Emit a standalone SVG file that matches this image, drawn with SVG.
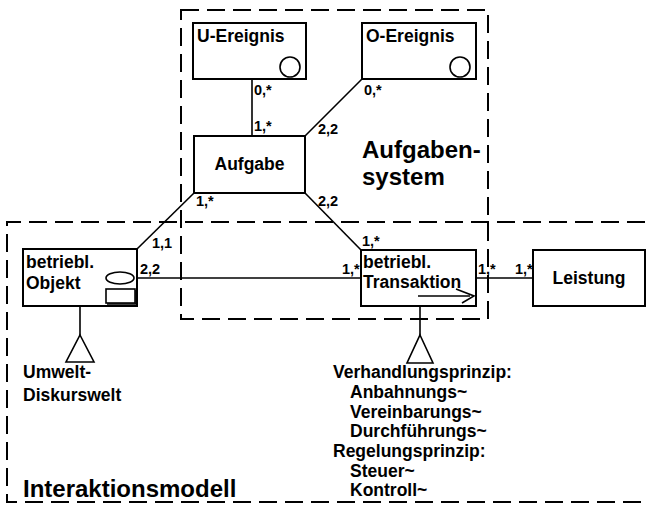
<svg xmlns="http://www.w3.org/2000/svg" width="650" height="518" viewBox="0 0 650 518">
  <style>
    .box { fill: #fff; stroke: #000; stroke-width: 2; }
    .frame { fill: none; stroke: #000; stroke-width: 2; stroke-dasharray: 18 8; }
    .line { fill: none; stroke: #000; stroke-width: 1.6; }
    .t { font-family: "Liberation Sans", Arial, sans-serif; font-weight: bold; fill: #000; }
    .name { font-size: 17.5px; }
    .card { font-size: 14.5px; }
    .big { font-size: 24px; }
    .note { font-size: 17.5px; }
  </style>

  <!-- frames -->
  <g id="aufgabensystem">
    <rect class="frame" x="181" y="10" width="307" height="309"/>
    <text class="t big" x="362" y="158">Aufgaben-</text>
    <text class="t big" x="362" y="185">system</text>
  </g>
  <g id="interaktionsmodell">
    <path class="frame" d="M645,222 H7 V502 H645"/>
    <text class="t big" x="23" y="497">Interaktionsmodell</text>
  </g>

  <!-- connectors -->
  <g id="connectors">
    <line class="line" x1="252" y1="79" x2="252" y2="136"/>
    <line class="line" x1="362" y1="79" x2="305" y2="136"/>
    <line class="line" x1="194" y1="193" x2="137" y2="249"/>
    <line class="line" x1="305" y1="193" x2="361" y2="250"/>
    <line class="line" x1="137" y1="278" x2="361" y2="278"/>
    <line class="line" x1="476" y1="278" x2="533" y2="278"/>
    <line class="line" x1="80" y1="306" x2="80" y2="335"/>
    <line class="line" x1="420" y1="306" x2="420" y2="335"/>
    <polygon class="line" points="80,335 94,362 66,362"/>
    <polygon class="line" points="420,335 433,363 407,363"/>

    <text class="t card" x="254" y="95">0,*</text>
    <text class="t card" x="254" y="131">1,*</text>
    <text class="t card" x="364" y="95">0,*</text>
    <text class="t card" x="318" y="134">2,2</text>
    <text class="t card" x="196" y="206">1,*</text>
    <text class="t card" x="318" y="206">2,2</text>
    <text class="t card" x="152" y="248">1,1</text>
    <text class="t card" x="140" y="274">2,2</text>
    <text class="t card" x="342" y="274">1,*</text>
    <text class="t card" x="362" y="246">1,*</text>
    <text class="t card" x="478" y="274">1,*</text>
    <text class="t card" x="515" y="274">1,*</text>
  </g>

  <!-- nodes -->
  <g id="u-ereignis">
    <rect class="box" x="193" y="23" width="113" height="56"/>
    <text class="t name" x="197" y="42">U-Ereignis</text>
    <circle class="line" cx="290" cy="67" r="10"/>
  </g>
  <g id="o-ereignis">
    <rect class="box" x="362" y="23" width="114" height="56"/>
    <text class="t name" x="366" y="42">O-Ereignis</text>
    <circle class="line" cx="460" cy="67" r="10"/>
  </g>
  <g id="aufgabe">
    <rect class="box" x="194" y="136" width="111" height="57"/>
    <text class="t name" x="249.5" y="170" text-anchor="middle">Aufgabe</text>
  </g>
  <g id="objekt">
    <rect class="box" x="23" y="249" width="114" height="57"/>
    <text class="t name" x="26" y="268">betriebl.</text>
    <text class="t name" x="26" y="289">Objekt</text>
    <ellipse class="line" cx="120" cy="278" rx="14" ry="6"/>
    <rect class="line" x="106" y="289" width="29" height="14"/>
    <path class="line" d="M136,290 V304 H107" stroke-width="2.4"/>
  </g>
  <g id="transaktion">
    <rect class="box" x="361" y="250" width="115" height="56"/>
    <text class="t name" x="363" y="268">betriebl.</text>
    <text class="t name" x="363" y="288">Transaktion</text>
    <line class="line" x1="418" y1="296" x2="470" y2="296" stroke-width="2"/>
    <path class="line" d="M456,289 L474,296 L462,303" stroke-width="3"/>
  </g>
  <g id="leistung">
    <rect class="box" x="533" y="250" width="112" height="56"/>
    <text class="t name" x="589" y="284" text-anchor="middle">Leistung</text>
  </g>

  <!-- annotations -->
  <g id="umwelt">
    <text class="t note" x="23" y="378">Umwelt-</text>
    <text class="t note" x="23" y="401">Diskurswelt</text>
  </g>
  <g id="prinzipien">
    <text class="t note" x="333" y="378">Verhandlungsprinzip:</text>
    <text class="t note" x="350" y="398">Anbahnungs~</text>
    <text class="t note" x="350" y="418">Vereinbarungs~</text>
    <text class="t note" x="350" y="437">Durchführungs~</text>
    <text class="t note" x="333" y="457">Regelungsprinzip:</text>
    <text class="t note" x="350" y="477">Steuer~</text>
    <text class="t note" x="350" y="496">Kontroll~</text>
  </g>
</svg>
